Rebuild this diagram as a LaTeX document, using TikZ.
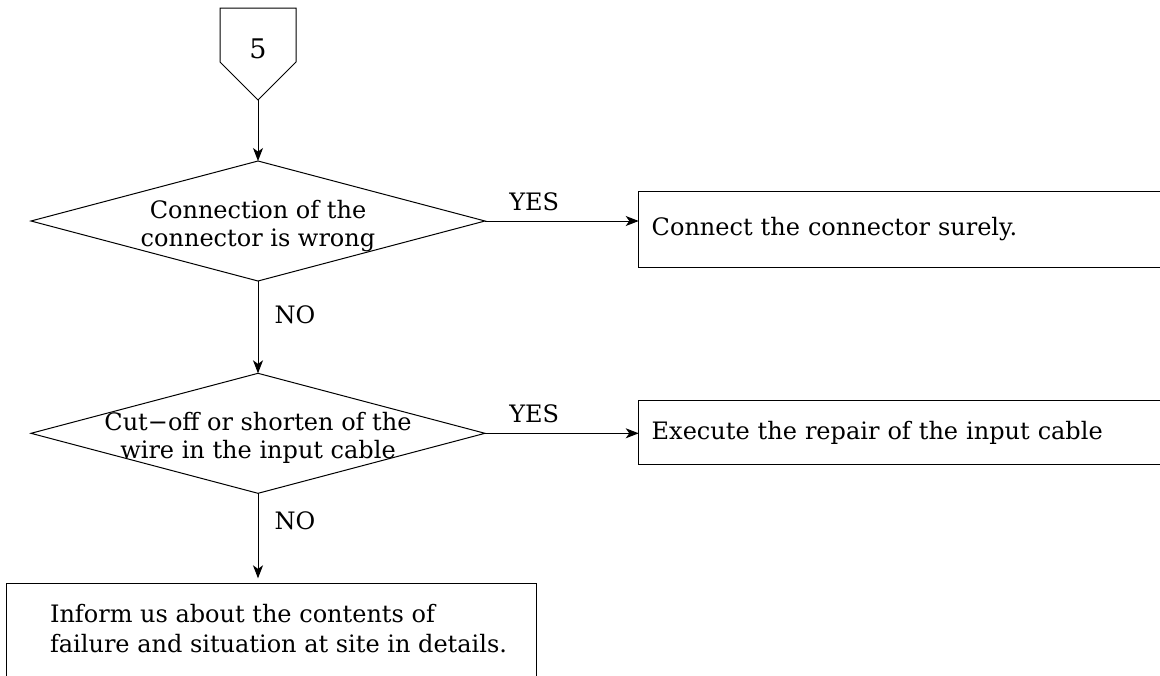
\documentclass[tikz,border=0pt]{standalone}
\usepackage{fontspec}
\setmainfont{DejaVu Serif}
\usetikzlibrary{shapes.geometric,arrows.meta}

\begin{document}
\begin{tikzpicture}[
    x=0.5pt, y=-0.5pt,
    line width=0.5pt,
    font=\fontsize{12}{14}\selectfont,
 mydecision/.style = {
        draw, diamond, aspect=3.78, inner sep=0pt, outer sep=0pt,
        minimum width=227pt, minimum height=60pt},
 mytext/.style = {
        align=center, inner sep=0pt, yshift=-2.5pt},
 myaction/.style = {
        draw, rectangle, align=left, text width=267pt, anchor=west,
        inner xsep=6.5pt, inner ysep=0pt, outer sep=0pt},
 myanswer/.style = {inner sep=0pt},
     arrow/.style = {-{Stealth[length=6.5pt,width=5pt,inset=1.8pt]}}
                    ]
\useasboundingbox (0,0) rectangle (1160,675);
\clip (0,0) rectangle (1160,675);
% the connector at the top
\node (c5) at (258,49.3) {\fontsize{13.5}{14}\selectfont 5};
\draw (220,8) -- (296,8) -- (296,62) -- (258,100) coordinate (c5tip)
      -- (220,62) -- cycle;
% the decisions in the center
\node (q1) [mydecision] at (258,221) {};
\node (q1txt) [mytext] at (q1) {Connection of the\\connector is wrong};
\node (q2) [mydecision] at (258,433.3) {};
\node (q2txt) [mytext] at (q2) {Cut−off or shorten of the\\wire in the input cable};
% the actions to the right
\node (a1) [myaction, minimum height=37.75pt] at (638.7,229.4)
                {Connect the connector surely.};
\node (a2) [myaction, minimum height=31.7pt] at (638.7,432.4)
                {Execute the repair of the input cable};
% the last step at the bottom
\node (inform) [draw, anchor=north west, minimum width=265pt,
                minimum height=60pt] at (6,583.3) {};
\node (informtxt) [align=left, inner sep=0pt, anchor=north,
                font=\fontsize{12}{15}\selectfont]
      at ([xshift=3.5pt,yshift=-10pt]inform.north)
                {Inform us about the contents of\\
                 failure and situation at site in details.};
% the connecting lines
\draw[arrow] (c5tip) -- (q1);
\draw[arrow] (q1.east) -- node[myanswer, above=5pt, pos=0.32] (yes1) {YES}
                         (q1.east -| a1.west);
\draw[arrow] (q1) -- node[myanswer, right=8pt, pos=0.37] (no1) {NO} (q2);
\draw[arrow] (q2.east) -- node[myanswer, above=5pt, pos=0.32] (yes2) {YES}
                         (q2.east -| a2.west);
\draw[arrow, shorten >=2.5pt] (q2) -- node[myanswer, right=8pt, pos=0.30] (no2) {NO}
                         (q2 |- inform.north);
\end{tikzpicture}
\end{document}
